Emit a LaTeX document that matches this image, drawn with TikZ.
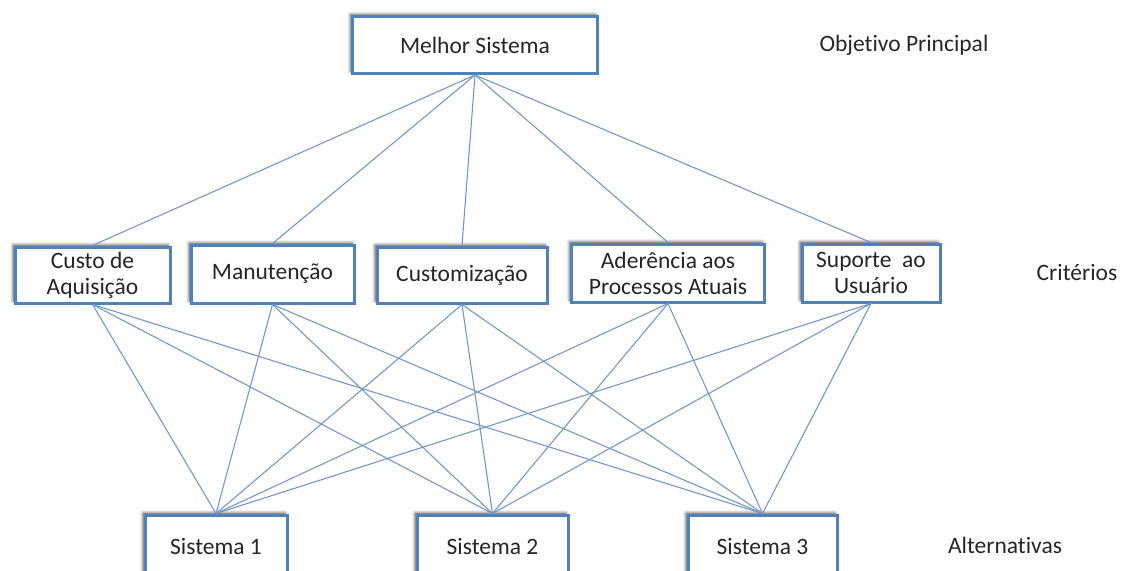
\documentclass[tikz,border=0pt]{standalone}
\usepackage{fontspec}
\setmainfont{Carlito}[Ligatures={NoCommon}]
\usetikzlibrary{shadows.blur}
\definecolor{boxblue}{HTML}{4F81BD}
\definecolor{linkblue}{HTML}{7598CC}
\definecolor{txt}{HTML}{262626}
\begin{document}
\begin{tikzpicture}[x=1pt,y=-1pt,
  box/.style={draw=boxblue, line width=3pt, fill=white, inner sep=0pt,
    align=center, text=txt, font=\fontsize{23.5}{26}\selectfont,
    blur shadow={shadow xshift=-2pt, shadow yshift=2pt, shadow blur radius=3pt, shadow opacity=70}},
  link/.style={draw=linkblue, line width=1.1pt},
  level/.style={text=txt, font=\fontsize{23.5}{26}\selectfont}]
\useasboundingbox (0,0) rectangle (1121,570);

% goal
\node[box, minimum width=245pt, minimum height=57pt] (goal) at (475,45) {Melhor Sistema};

% criteria
\node[box, minimum width=155pt, minimum height=56pt] (c1) at (92.5,275) {Custo de\\Aquisição};
\node[box, minimum width=163pt, minimum height=58pt] (c2) at (272.5,274) {Manutenção};
\node[box, minimum width=170pt, minimum height=56pt] (c3) at (462,275) {Customização};
\node[box, minimum width=193pt, minimum height=58pt] (c4) at (668,273) {Aderência aos\\Processos Atuais};
\node[box, minimum width=138pt, minimum height=58pt] (c5) at (871,273) {Suporte\ \ ao\\Usuário};

% alternatives (boxes run past the lower edge)
\node[box, minimum width=142pt, minimum height=62pt] (a1) at (216,546) {Sistema 1};
\node[box, minimum width=151pt, minimum height=62pt] (a2) at (492.5,546) {Sistema 2};
\node[box, minimum width=149pt, minimum height=62pt] (a3) at (762.5,546) {Sistema 3};

% level labels
\node[level] (lg) at (904,45) {Objetivo Principal};
\node[level] (lc) at (1077,272) {Critérios};
\node[level] (la) at (1005,545) {Alternativas};

% connectors
\foreach \c in {c1,c2,c3,c4,c5}{
  \path[link] (goal.south) -- (\c.north);
  \foreach \a in {a1,a2,a3}{
    \path[link] (\c.south) -- (\a.north);
  }
}
\end{tikzpicture}
\end{document}
